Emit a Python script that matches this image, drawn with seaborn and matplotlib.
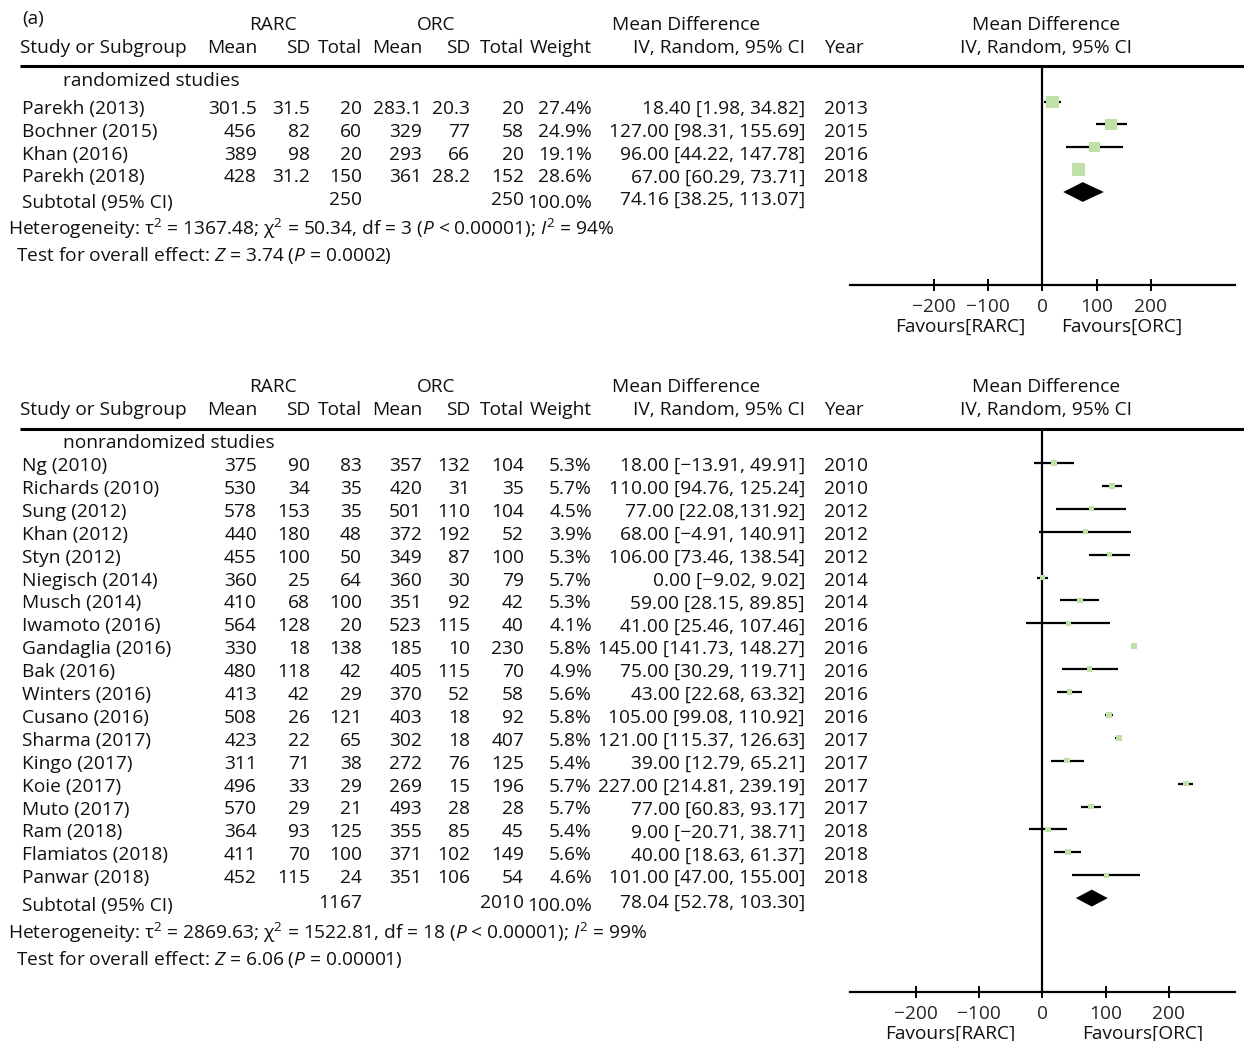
import matplotlib
matplotlib.use('Agg')
import matplotlib.pyplot as plt
import seaborn as sns
import pandas as pd
import numpy as np

sns.set_theme(style='white')
plt.rcParams.update({
    'font.family': ['Open Sans', 'DejaVu Sans'],
    'mathtext.fontset': 'custom',
    'mathtext.rm': 'Open Sans',
    'mathtext.it': 'Open Sans:italic',
    'mathtext.bf': 'Open Sans:bold',
    'text.color': '#111111',
})

# ---- randomized studies ----
rand_study = ['Parekh (2013)', 'Bochner (2015)', 'Khan (2016)', 'Parekh (2018)']
rand_rarc_mean = [301.5, 456, 389, 428]
rand_rarc_sd = [31.5, 82, 98, 31.2]
rand_rarc_n = [20, 60, 20, 150]
rand_orc_mean = [283.1, 329, 293, 361]
rand_orc_sd = [20.3, 77, 66, 28.2]
rand_orc_n = [20, 58, 20, 152]
rand_weight = [27.4, 24.9, 19.1, 28.6]
rand_md = [18.40, 127.00, 96.00, 67.00]
rand_lo = [1.98, 98.31, 44.22, 60.29]
rand_hi = [34.82, 155.69, 147.78, 73.71]
rand_ci_text = ['18.40 [1.98, 34.82]', '127.00 [98.31, 155.69]',
                '96.00 [44.22, 147.78]', '67.00 [60.29, 73.71]']
rand_year = [2013, 2015, 2016, 2018]
rand_total = (250, 250, '100.0%', 74.16, 38.25, 113.07, '74.16 [38.25, 113.07]')
rand_het = ('Heterogeneity: \u03c4$^2$ = 1367.48; \u03c7$^2$ = 50.34, df = 3 '
            '($P$ < 0.00001); $I^2$ = 94%')
rand_test = r'Test for overall effect: $Z$ = 3.74 ($P$ = 0.0002)'

# ---- nonrandomized studies ----
non_study = ['Ng (2010)', 'Richards (2010)', 'Sung (2012)', 'Khan (2012)', 'Styn (2012)',
             'Niegisch (2014)', 'Musch (2014)', 'Iwamoto (2016)', 'Gandaglia (2016)',
             'Bak (2016)', 'Winters (2016)', 'Cusano (2016)', 'Sharma (2017)',
             'Kingo (2017)', 'Koie (2017)', 'Muto (2017)', 'Ram (2018)',
             'Flamiatos (2018)', 'Panwar (2018)']
non_rarc_mean = [375, 530, 578, 440, 455, 360, 410, 564, 330, 480, 413, 508, 423, 311, 496, 570, 364, 411, 452]
non_rarc_sd = [90, 34, 153, 180, 100, 25, 68, 128, 18, 118, 42, 26, 22, 71, 33, 29, 93, 70, 115]
non_rarc_n = [83, 35, 35, 48, 50, 64, 100, 20, 138, 42, 29, 121, 65, 38, 29, 21, 125, 100, 24]
non_orc_mean = [357, 420, 501, 372, 349, 360, 351, 523, 185, 405, 370, 403, 302, 272, 269, 493, 355, 371, 351]
non_orc_sd = [132, 31, 110, 192, 87, 30, 92, 115, 10, 115, 52, 18, 18, 76, 15, 28, 85, 102, 106]
non_orc_n = [104, 35, 104, 52, 100, 79, 42, 40, 230, 70, 58, 92, 407, 125, 196, 28, 45, 149, 54]
non_weight = [5.3, 5.7, 4.5, 3.9, 5.3, 5.7, 5.3, 4.1, 5.8, 4.9, 5.6, 5.8, 5.8, 5.4, 5.7, 5.7, 5.4, 5.6, 4.6]
non_md = [18.00, 110.00, 77.00, 68.00, 106.00, 0.00, 59.00, 41.00, 145.00, 75.00,
          43.00, 105.00, 121.00, 39.00, 227.00, 77.00, 9.00, 40.00, 101.00]
non_lo = [-13.91, 94.76, 22.08, -4.91, 73.46, -9.02, 28.15, -25.46, 141.73, 30.29,
          22.68, 99.08, 115.37, 12.79, 214.81, 60.83, -20.71, 18.63, 47.00]
non_hi = [49.91, 125.24, 131.92, 140.91, 138.54, 9.02, 89.85, 107.46, 148.27, 119.71,
          63.32, 110.92, 126.63, 65.21, 239.19, 93.17, 38.71, 61.37, 155.00]
non_ci_text = ['18.00 [\u221213.91, 49.91]', '110.00 [94.76, 125.24]', '77.00 [22.08,131.92]',
               '68.00 [\u22124.91, 140.91]', '106.00 [73.46, 138.54]', '0.00 [\u22129.02, 9.02]',
               '59.00 [28.15, 89.85]', '41.00 [25.46, 107.46]', '145.00 [141.73, 148.27]',
               '75.00 [30.29, 119.71]', '43.00 [22.68, 63.32]', '105.00 [99.08, 110.92]',
               '121.00 [115.37, 126.63]', '39.00 [12.79, 65.21]', '227.00 [214.81, 239.19]',
               '77.00 [60.83, 93.17]', '9.00 [\u221220.71, 38.71]', '40.00 [18.63, 61.37]',
               '101.00 [47.00, 155.00]']
non_year = [2010, 2010, 2012, 2012, 2012, 2014, 2014, 2016, 2016, 2016,
            2016, 2016, 2017, 2017, 2017, 2017, 2018, 2018, 2018]
non_total = (1167, 2010, '100.0%', 78.04, 52.78, 103.30, '78.04 [52.78, 103.30]')
non_het = ('Heterogeneity: \u03c4$^2$ = 2869.63; \u03c7$^2$ = 1522.81, df = 18 '
           '($P$ < 0.00001); $I^2$ = 99%')
non_test = r'Test for overall effect: $Z$ = 6.06 ($P$ = 0.00001)'

xticks = [-200, -100, 0, 100, 200]

W, H = 1244, 1041
FS = 13.8
GREEN = '#bfe1a8'
# right edges of numeric columns (pixels)
COLS = [257, 310, 362, 422, 470, 524, 592]


def draw_panel(fig, tx, label, rows, lay, total, het, test, tag=None):
    """Draw table text + forest plot of one subgroup."""
    study, rm, rsd, rn, om, osd, on, wt, md, lo, hi, ci_text, year = rows
    # header
    if tag:
        tx.text(22, lay['h1'] - 6, tag, fontsize=FS, ha='left', va='center')
    tx.text(273, lay['h1'], 'RARC', fontsize=FS, ha='center', va='center')
    tx.text(436, lay['h1'], 'ORC', fontsize=FS, ha='center', va='center')
    tx.text(686, lay['h1'], 'Mean Difference', fontsize=FS, ha='center', va='center')
    tx.text(1046, lay['h1'], 'Mean Difference', fontsize=FS, ha='center', va='center')
    tx.text(20, lay['h2'], 'Study or Subgroup', fontsize=FS, ha='left', va='center')
    for x, h in zip(COLS, ['Mean', 'SD', 'Total', 'Mean', 'SD', 'Total', 'Weight']):
        tx.text(x, lay['h2'], h, fontsize=FS, ha='right', va='center')
    tx.text(805, lay['h2'], 'IV, Random, 95% CI', fontsize=FS, ha='right', va='center')
    tx.text(824, lay['h2'], 'Year', fontsize=FS, ha='left', va='center')
    tx.text(1046, lay['h2'], 'IV, Random, 95% CI', fontsize=FS, ha='center', va='center')
    tx.plot([20, W], [lay['rule'], lay['rule']], color='black', lw=2.2,
            solid_capstyle='butt')
    tx.text(63, lay['grp'], label, fontsize=FS, ha='left', va='center')

    # study rows
    for i in range(len(study)):
        y = lay['r0'] + lay['dr'] * i
        tx.text(22, y, study[i], fontsize=FS, ha='left', va='center')
        vals = [f'{rm[i]:g}', f'{rsd[i]:g}', f'{rn[i]}', f'{om[i]:g}',
                f'{osd[i]:g}', f'{on[i]}', f'{wt[i]:.1f}%']
        for x, v in zip(COLS, vals):
            tx.text(x, y, v, fontsize=FS, ha='right', va='center')
        tx.text(805, y, ci_text[i], fontsize=FS, ha='right', va='center')
        tx.text(824, y, str(year[i]), fontsize=FS, ha='left', va='center')

    # subtotal + stats
    n1, n2, wsum, smd, slo, shi, stext = total
    tx.text(22, lay['sub'], 'Subtotal (95% CI)', fontsize=FS, ha='left', va='center')
    tx.text(COLS[2], lay['sub'] - 3, str(n1), fontsize=FS, ha='right', va='center')
    tx.text(COLS[5], lay['sub'] - 3, str(n2), fontsize=FS, ha='right', va='center')
    tx.text(COLS[6], lay['sub'], wsum, fontsize=FS, ha='right', va='center')
    tx.text(805, lay['sub'] - 3, stext, fontsize=FS, ha='right', va='center')
    tx.text(8, lay['het'], het, fontsize=FS, ha='left', va='center')
    tx.text(16, lay['test'], test, fontsize=FS, ha='left', va='center')

    # forest axes spans from header rule down to the x axis
    top, bot = lay['rule'], lay['axis']
    ax = fig.add_axes([850 / W, 1 - bot / H, 385 / W, (bot - top) / H])
    df = pd.DataFrame({'md': md, 'lo': lo, 'hi': hi, 'weight': wt,
                       'row': np.arange(len(md))})
    ax.hlines(df['row'], df['lo'], df['hi'], color='black', lw=1.6, zorder=2)
    sns.scatterplot(data=df, x='md', y='row', size='weight', sizes=(0, 299),
                    size_norm=(0, 100), marker='s', color=GREEN, linewidth=0,
                    legend=False, ax=ax, zorder=3)
    k = len(md)
    hh = lay['dh']
    ax.fill([slo, smd, shi, smd], [k, k - hh, k, k + hh], color='black', lw=0, zorder=3)
    ax.axvline(0, color='black', lw=1.6, zorder=1)

    ax.set_xlim(-lay['xr'], lay['xr'])
    ax.set_ylim((bot - lay['m0']) / lay['dm'], (top - lay['m0']) / lay['dm'])
    ax.set_xticks(xticks)
    ax.set_xticklabels([f'{t}'.replace('-', '\u2212') for t in xticks], fontsize=FS)
    ax.set_yticks([])
    ax.set_xlabel('')
    ax.set_ylabel('')
    for s in ['left', 'right', 'top']:
        ax.spines[s].set_visible(False)
    ax.spines['bottom'].set_linewidth(1.6)
    ax.spines['bottom'].set_color('black')
    ax.tick_params(axis='x', direction='inout', length=9, width=1.4,
                   color='black', pad=5, bottom=True)
    ax.patch.set_alpha(0)
    tx.text(lay['fav'][0], lay['axis'] + 42, 'Favours[RARC]', fontsize=FS,
            ha='center', va='center')
    tx.text(lay['fav'][1], lay['axis'] + 42, 'Favours[ORC]', fontsize=FS,
            ha='center', va='center')
    return ax


fig = plt.figure(figsize=(W / 100, H / 100), dpi=100)
tx = fig.add_axes([0, 0, 1, 1])
tx.set_xlim(0, W)
tx.set_ylim(H, 0)
tx.axis('off')

top_layout = dict(h1=25, h2=48, rule=66, grp=81, r0=109, dr=22.8, sub=203,
                  het=229, test=255, axis=285, m0=102, dm=22.5, dh=0.44,
                  xr=355, fav=(960, 1122))
bot_layout = dict(h1=387, h2=410, rule=429, grp=443, r0=466, dr=22.9, sub=906,
                  het=933, test=959, axis=992, m0=463, dm=22.9, dh=0.37,
                  xr=305, fav=(950, 1143))

draw_panel(fig, tx, 'randomized studies',
           (rand_study, rand_rarc_mean, rand_rarc_sd, rand_rarc_n, rand_orc_mean,
            rand_orc_sd, rand_orc_n, rand_weight, rand_md, rand_lo, rand_hi,
            rand_ci_text, rand_year),
           top_layout, rand_total, rand_het, rand_test, tag='(a)')
draw_panel(fig, tx, 'nonrandomized studies',
           (non_study, non_rarc_mean, non_rarc_sd, non_rarc_n, non_orc_mean,
            non_orc_sd, non_orc_n, non_weight, non_md, non_lo, non_hi,
            non_ci_text, non_year),
           bot_layout, non_total, non_het, non_test)

plt.savefig('out.png', dpi=100, facecolor='white')
print('Saved out.png')
